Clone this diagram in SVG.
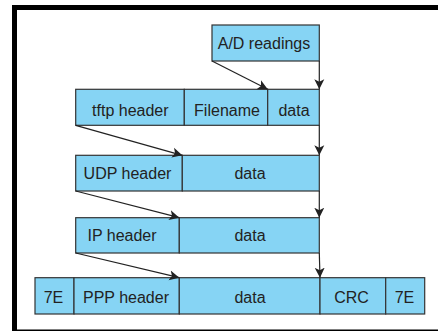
<svg xmlns="http://www.w3.org/2000/svg" width="438" height="331" viewBox="0 0 438 331">
<style>
.cell{fill:#86d4f4;stroke:#333;stroke-width:1.2}
.lbl{font-family:"Liberation Sans",Arial,sans-serif;font-size:16px;fill:#222;text-anchor:middle}
.conn{stroke:#222;stroke-width:1.2;fill:none;marker-end:url(#ah)}
</style>
<defs>
<marker id="ah" markerUnits="userSpaceOnUse" markerWidth="11" markerHeight="11" refX="10" refY="5.5" orient="auto" viewBox="0 0 11 11">
<path d="M0,0.5 L10,5.5 L0,10.5 L2.5,5.5 z" fill="#222"/>
</marker>
</defs>
<rect width="438" height="331" fill="#fff"/>
<g id="frame">
<rect x="12" y="5" width="426" height="5" fill="#000"/>
<rect x="12" y="5" width="5" height="326" fill="#000"/>
<line x1="12" y1="330.2" x2="438" y2="330.2" stroke="#000" stroke-width="1.5"/>
</g>
<g id="ad">
<rect class="cell" x="212" y="25" width="107.3" height="36"/>
<text class="lbl" x="264" y="48.5">A/D readings</text>
</g>
<g id="tftp">
<rect class="cell" x="75.7" y="89.3" width="108.6" height="36"/>
<rect class="cell" x="184.3" y="89.3" width="83.4" height="36"/>
<rect class="cell" x="267.7" y="89.3" width="51.6" height="36"/>
<text class="lbl" x="130.3" y="115.5">tftp header</text>
<text class="lbl" x="227" y="115.5">Filename</text>
<text class="lbl" x="294" y="115.5">data</text>
</g>
<g id="udp">
<rect class="cell" x="75.7" y="155.3" width="106.6" height="35.7"/>
<rect class="cell" x="182.3" y="155.3" width="137" height="35.7"/>
<text class="lbl" x="127.5" y="178.5">UDP header</text>
<text class="lbl" x="250" y="178.5">data</text>
</g>
<g id="ip">
<rect class="cell" x="75.7" y="217.7" width="103.6" height="35.3"/>
<rect class="cell" x="179.3" y="217.7" width="140" height="35.3"/>
<text class="lbl" x="122" y="241">IP header</text>
<text class="lbl" x="250" y="241">data</text>
</g>
<g id="ppp">
<rect class="cell" x="35" y="277.7" width="39" height="36.3"/>
<rect class="cell" x="74" y="277.7" width="105.3" height="36.3"/>
<rect class="cell" x="179.3" y="277.7" width="140.7" height="36.3"/>
<rect class="cell" x="320" y="277.7" width="65.7" height="36.3"/>
<rect class="cell" x="385.7" y="277.7" width="39" height="36.3"/>
<text class="lbl" x="53.5" y="302.5">7E</text>
<text class="lbl" x="126" y="302.5">PPP header</text>
<text class="lbl" x="250" y="302.5">data</text>
<text class="lbl" x="351.5" y="302.5">CRC</text>
<text class="lbl" x="404.5" y="302.5">7E</text>
</g>
<g id="connectors">
<line class="conn" x1="212" y1="61" x2="267.7" y2="89.3"/>
<line class="conn" x1="319.3" y1="61" x2="319.3" y2="89.3"/>
<line class="conn" x1="75.7" y1="125.3" x2="182.3" y2="155.3"/>
<line class="conn" x1="319.3" y1="125.3" x2="319.3" y2="155.3"/>
<line class="conn" x1="75.7" y1="191" x2="179.3" y2="217.7"/>
<line class="conn" x1="319.3" y1="191" x2="319.3" y2="217.7"/>
<line class="conn" x1="75.7" y1="253" x2="179.3" y2="277.7"/>
<line class="conn" x1="319.3" y1="253" x2="320" y2="277.7"/>
</g>
</svg>
